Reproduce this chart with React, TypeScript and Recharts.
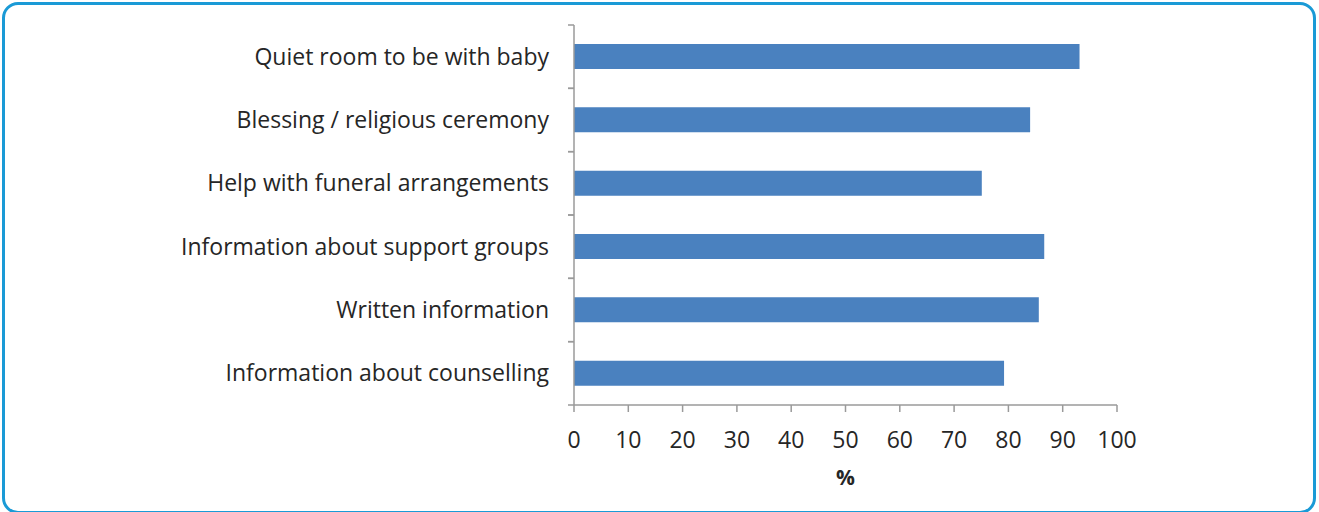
import React from "react";
import { BarChart, Bar, XAxis, YAxis } from "recharts";

const categories = [
  "Quiet room to be with baby",
  "Blessing / religious ceremony",
  "Help with funeral arrangements",
  "Information about support groups",
  "Written information",
  "Information about counselling",
];
const values = [93.1, 84.0, 75.1, 86.6, 85.6, 79.2];
const xTicks = [0, 10, 20, 30, 40, 50, 60, 70, 80, 90, 100];

const data = categories.map((name, i) => ({ name, value: values[i] }));

const W = 1319;
const H = 512;
const TOP = 25;
const PLOT_BOTTOM = 405;
const LEFT = 574;
const RIGHT = 1117;
const X_AXIS_H = 90;
const BAND = (PLOT_BOTTOM - TOP) / categories.length;
const AXIS = "#9a9a9a";
const TEXT = "#262626";
const FONT = "'Open Sans', sans-serif";
const TICK_SIZE = 6;
const TICK_MARGIN = 19;

// label in the middle of the band, tick marks on the band edges
const CategoryTick = (props: any) => {
  const { x, y, payload } = props;
  const ax = x + TICK_SIZE + TICK_MARGIN;
  return (
    <g>
      <line x1={ax - TICK_SIZE} x2={ax} y1={y - BAND / 2} y2={y - BAND / 2} stroke={AXIS} strokeWidth={1.5} />
      <line x1={ax - TICK_SIZE} x2={ax} y1={y + BAND / 2} y2={y + BAND / 2} stroke={AXIS} strokeWidth={1.5} />
      <text x={x} y={y} dy="0.35em" textAnchor="end" fill={TEXT} fontSize={23} fontFamily={FONT}>
        {payload.value}
      </text>
    </g>
  );
};

export default function App() {
  return (
    <div style={{ position: "absolute", left: 0, top: 0, width: W, height: H, background: "#fff", overflow: "hidden" }}>
      <div
        style={{
          position: "absolute",
          left: 2,
          top: 2,
          width: 1314,
          height: 512,
          boxSizing: "border-box",
          border: "3px solid #1a9ad6",
          borderRadius: 16,
        }}
      />
      <BarChart
        width={W}
        height={H}
        data={data}
        layout="vertical"
        margin={{ top: TOP, right: W - RIGHT, bottom: H - PLOT_BOTTOM - X_AXIS_H, left: 0 }}
        barCategoryGap={BAND - 25}
      >
        <XAxis
          type="number"
          domain={[0, 100]}
          ticks={xTicks}
          interval={0}
          height={X_AXIS_H}
          tickSize={7}
          tickMargin={20}
          stroke={AXIS}
          strokeWidth={1.5}
          tick={{ fill: TEXT, fontSize: 23, fontFamily: FONT }}
          label={{ value: "%", position: "insideBottom", offset: 10, fill: TEXT, fontSize: 21, fontWeight: 700, fontFamily: FONT }}
        />
        <YAxis
          type="category"
          dataKey="name"
          width={LEFT}
          interval={0}
          tickLine={false}
          tickSize={TICK_SIZE}
          tickMargin={TICK_MARGIN}
          stroke={AXIS}
          strokeWidth={1.5}
          tick={<CategoryTick />}
        />
        <Bar dataKey="value" fill="#4a81bf" barSize={25} isAnimationActive={false} />
      </BarChart>
    </div>
  );
}
